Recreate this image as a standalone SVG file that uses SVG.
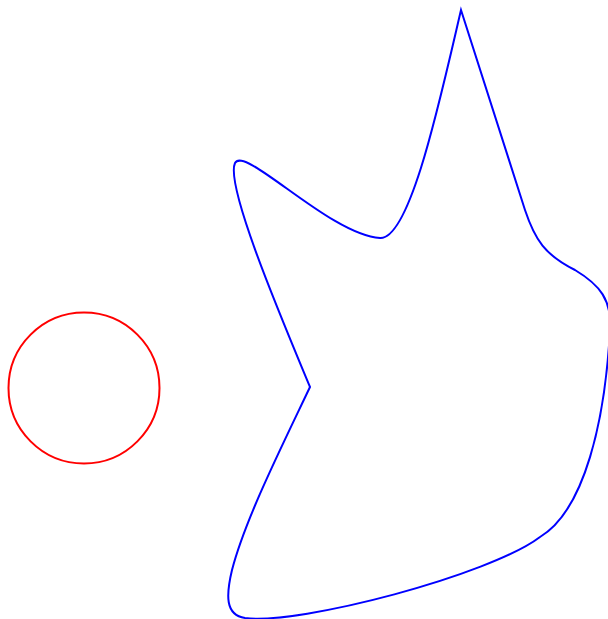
<svg xmlns="http://www.w3.org/2000/svg" width="608" height="619" viewBox="0 0 608 619">
<style>
.s{fill:none;stroke-width:2}
</style>
<rect width="608" height="619" fill="#fff"/>
<circle class="s" cx="84" cy="388" r="75.5" stroke="#f00"/>
<path class="s" stroke="#00f" d="M 461,10 C 490,100 515,180 525,210 C 535,240 545,255 575,270 C 600,285 612,300 610,330 C 605,420 585,510 540,537 C 490,575 300,625 245,618 C 225,615 226,595 232,570 C 245,520 280,450 310,387 C 280,315 225,185 235,163 C 245,145 330,235 380,238 C 410,240 440,100 461,10 Z"/>
</svg>
